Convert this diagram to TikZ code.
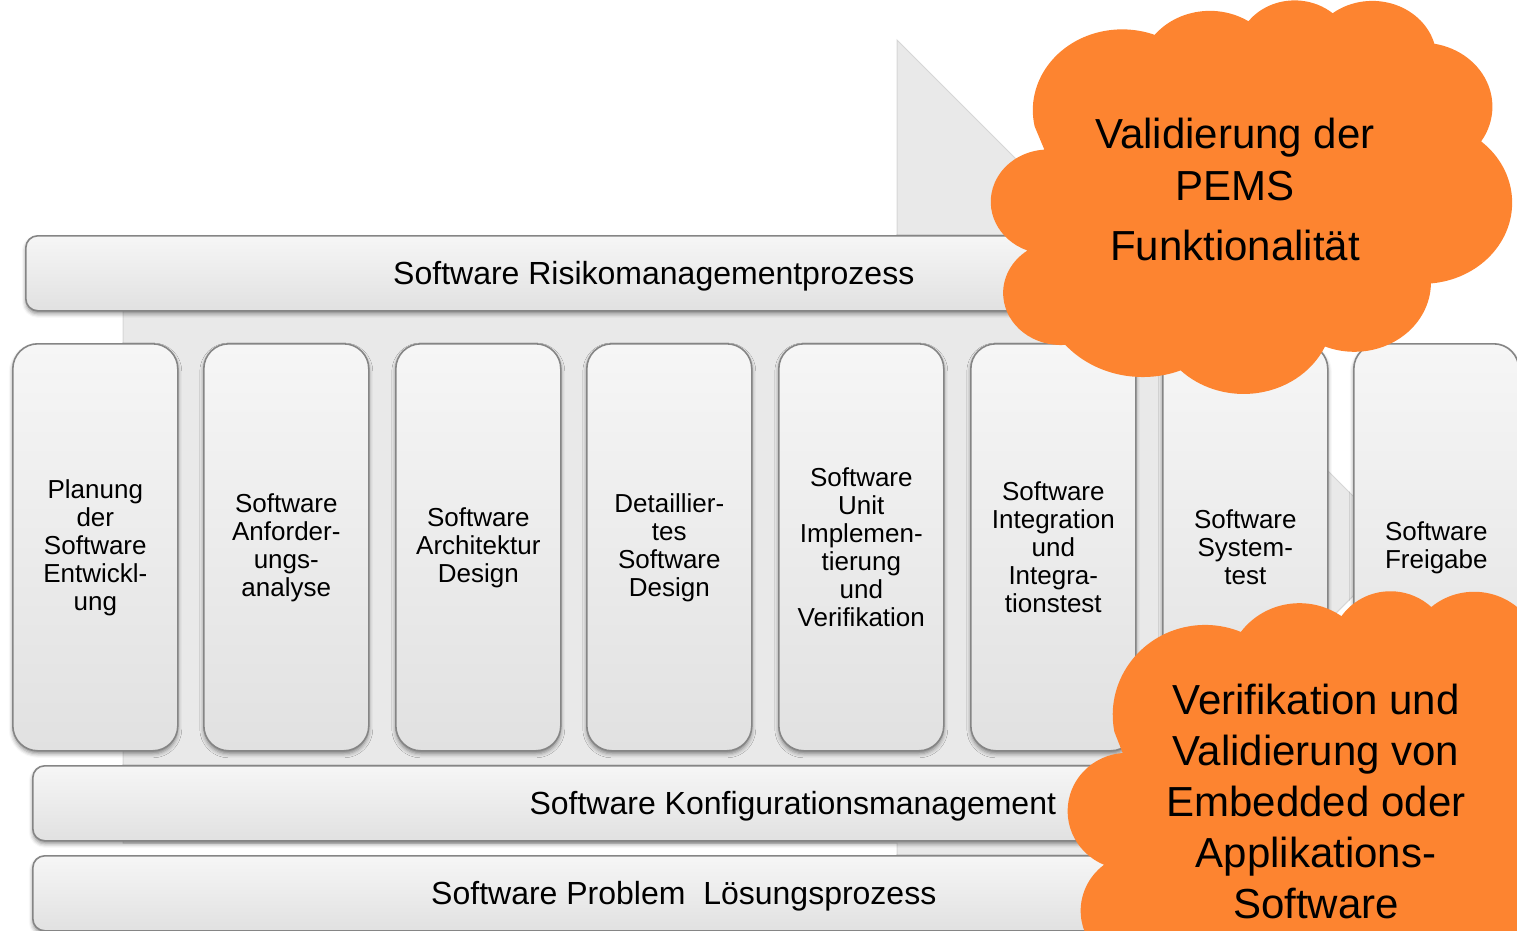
\documentclass[tikz,border=0pt]{standalone}
\usepackage{fontspec}
\setmainfont{Liberation Sans}
\usetikzlibrary{shadows.blur}
\definecolor{arrowgrey}{HTML}{E9E9E9}
\definecolor{arrowedge}{HTML}{D6D6D6}
\definecolor{boxtop}{HTML}{F6F6F6}
\definecolor{boxbot}{HTML}{E1E1E1}
\definecolor{boxline}{HTML}{858585}
\definecolor{cloudorange}{HTML}{FD8430}
\newcommand\colfont{\fontsize{26}{28}\selectfont}
\newcommand\barfont{\fontsize{32}{36}\selectfont}
\newcommand\cloudfont{\fontsize{42}{52}\selectfont}
\newcommand\cldcalc[5]{%
  \pgfmathsetmacro\tmprx{#2*\csx}%
  \pgfmathsetmacro\tmpry{#3*\csy}%
  \pgfmathsetmacro\tmpts{-atan2(\tmprx*sin(#4),\tmpry*cos(#4))}%
  \pgfmathsetmacro\tmpte{-atan2(\tmprx*sin(#4+#5),\tmpry*cos(#4+#5))}%
  \pgfmathsetmacro\tmpdt{-mod(\tmpts-\tmpte+720,360)}%
  \edef\tmpdo{\noexpand\tikzset{#1/.style={start angle=\tmpts, delta angle=\tmpdt, x radius=\tmprx pt, y radius=\tmpry pt}}}\tmpdo
}
\newcommand\cloudshape[4]{% X0 Y0 W H ; preset units /100
  \pgfmathsetmacro\csx{#3/432}%
  \pgfmathsetmacro\csy{#4/432}%
  \cldcalc{cla}{67.53}{91.90}{-190.48748}{123.78053}%
  \cldcalc{clb}{53.33}{72.67}{-144.10238}{89.94523}%
  \cldcalc{clc}{43.65}{59.45}{-145.80792}{99.72302}%
  \cldcalc{cld}{48.57}{65.95}{-130.98607}{117.24173}%
  \cldcalc{cle}{53.33}{72.73}{-78.70888}{109.02692}%
  \cldcalc{clf}{67.75}{92.20}{-46.26725}{130.269}%
  \cldcalc{clg}{57.85}{78.67}{0.62502}{114.03333}%
  \cldcalc{clh}{67.52}{92.15}{22.4516}{115.17255}%
  \cldcalc{cli}{77.20}{105.43}{66.24263}{75.71102}%
  \cldcalc{clj}{43.60}{59.18}{-274.94208}{146.73557}%
  \cldcalc{clk}{43.45}{59.45}{-246.8285}{152.51885}%
  \fill[cloudorange] ({#1+39.00*\csx},{#2+143.70*\csy}) arc[cla] arc[clb] arc[clc] arc[cld] arc[cle] arc[clf] arc[clg] arc[clh] arc[cli] arc[clj] arc[clk] -- cycle;
}
\tikzset{
  boxbase/.style={draw=boxline, line width=1.6pt, top color=boxtop, bottom color=boxbot,
    inner sep=0pt, anchor=north west,
    blur shadow={shadow xshift=0pt, shadow yshift=-3pt, shadow blur radius=4pt, shadow opacity=45}},
  colbox/.style={boxbase, rounded corners=25pt, minimum width=165pt, minimum height=407pt,
    align=center, font=\colfont},
  barbox/.style={boxbase, rounded corners=12pt, minimum height=75pt, font=\barfont, text depth=0pt},
  cloudtext/.style={align=center, font=\cloudfont, inner sep=0pt}
}
\begin{document}
\begin{tikzpicture}[x=1pt,y=-1pt]
\useasboundingbox (0,0) rectangle (1517,930);
\clip (0,0) rectangle (1517,930);
% background arrow
\fill[arrowgrey, draw=arrowedge, line width=1pt] (123,250) -- (897,250) -- (897,40) -- (1403,546) -- (897,1053) -- (897,843) -- (123,843) -- cycle;
% top bar
\node[barbox, minimum width=1256pt] (risk) at (25,235) {Software Risikomanagementprozess};
% columns
\node[colbox] (c1) at (12,343) {Planung\\der\\Software\\Entwickl-\\ung};
\node[colbox] (c2) at (203,343) {Software\\Anforder-\\ungs-\\analyse};
\node[colbox] (c3) at (395,343) {Software\\Architektur\\Design};
\node[colbox] (c4) at (586,343) {Detaillier-\\tes\\Software\\Design};
\node[colbox] (c5) at (778,343) {Software\\Unit\\Implemen-\\tierung\\und\\Verifikation};
\node[colbox] (c6) at (970,343) {Software\\Integration\\und\\Integra-\\tionstest};
\node[colbox] (c7) at (1162,343) {Software\\System-\\test};
\node[colbox] (c8) at (1353,343) {Software\\Freigabe};
% bottom bars
\node[barbox, minimum width=1520pt] (konf) at (32,765) {Software Konfigurationsmanagement};
\node[barbox, minimum width=1302pt] (prob) at (32,855) {Software Problem\ \ Lösungsprozess};
% clouds
\cloudshape{983}{0}{572}{380}
\node[cloudtext] (val) at (1235,189) {Validierung der\\PEMS\\[8pt]Funktionalität};
\cloudshape{1061}{591}{591}{423}
\node[cloudtext, font=\fontsize{42}{51}\selectfont] (ver) at (1316,801) {Verifikation und\\Validierung von\\Embedded oder\\Applikations-\\Software};
\end{tikzpicture}
\end{document}
